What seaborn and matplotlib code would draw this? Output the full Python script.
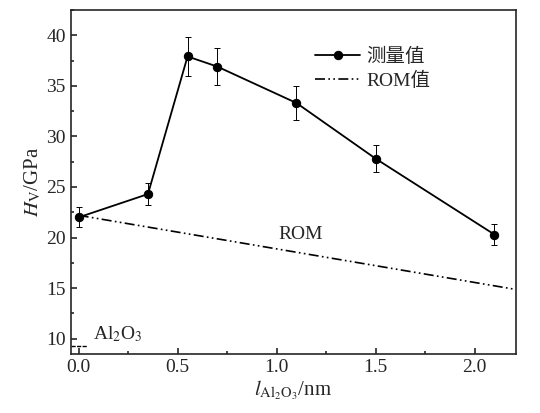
import numpy as np
import pandas as pd
import matplotlib
matplotlib.use("Agg")
import matplotlib.pyplot as plt
import seaborn as sns
from matplotlib.ticker import MultipleLocator

# measured hardness vs Al2O3 layer thickness
thickness = [0.0, 0.35, 0.55, 0.70, 1.10, 1.50, 2.10]
hardness = [22.0, 24.3, 37.9, 36.9, 33.3, 27.8, 20.3]
hardness_err = [1.0, 1.1, 1.9, 1.8, 1.7, 1.3, 1.0]

# rule-of-mixtures line
rom_x = [0.0, 2.2]
rom_y = [22.2, 14.9]

# Al2O3 reference marker
al2o3_x = [-0.04, 0.04]
al2o3_y = [9.25, 9.25]

df = pd.DataFrame({"l": thickness, "H": hardness})
rom_df = pd.DataFrame({"l": rom_x, "H": rom_y})

sns.set_style("ticks")
plt.rcParams['font.family'] = ['Liberation Serif', 'Noto Sans CJK SC', 'DejaVu Sans']
plt.rcParams['mathtext.fontset'] = 'stix'

fig, ax = plt.subplots(figsize=(5.4, 4.13), dpi=100)

ax.errorbar(thickness, hardness, yerr=hardness_err, fmt='none', ecolor='black',
            elinewidth=0.7, capsize=2, capthick=0.7, zorder=2)
sns.lineplot(data=df, x="l", y="H", ax=ax, color='black', marker='o', markersize=6,
             markeredgecolor='black', linewidth=1.3, label='测量值', zorder=3)
sns.lineplot(data=rom_df, x="l", y="H", ax=ax, color='black', linewidth=1.2,
             linestyle=(0, (6, 2, 1, 2, 1, 2)), label='ROM值', zorder=2)
ax.plot(al2o3_x, al2o3_y, color='black', linewidth=1.0, linestyle=(0, (3, 1)))

ax.text(1.12, 19.5, 'ROM', fontsize=14, ha='center', va='bottom')
ax.text(0.07, 9.5, r'Al$_2$O$_3$', fontsize=14, ha='left', va='bottom')

ax.set_xlim(-0.04, 2.21)
ax.set_ylim(8.5, 42.5)
ax.xaxis.set_major_locator(MultipleLocator(0.5))
ax.xaxis.set_minor_locator(MultipleLocator(0.25))
ax.yaxis.set_major_locator(MultipleLocator(5))
ax.yaxis.set_minor_locator(MultipleLocator(2.5))
ax.xaxis.set_major_formatter(matplotlib.ticker.FormatStrFormatter('%.1f'))
ax.tick_params(direction='in', which='both', labelsize=14, width=1.2)
ax.tick_params(which='major', length=4)
ax.tick_params(which='minor', length=2.5)
for s in ax.spines.values():
    s.set_linewidth(1.2)
    s.set_visible(True)

ax.set_xlabel(r'$l_{\mathrm{Al_2O_3}}$/nm', fontsize=15, labelpad=2)
ax.set_ylabel(r'$H_{\mathrm{V}}$/GPa', fontsize=15, labelpad=2)

leg = ax.legend(loc='upper left', bbox_to_anchor=(0.51, 0.94), frameon=False,
                fontsize=14, handlelength=2.3, labelspacing=0.3, handletextpad=0.3)

fig.subplots_adjust(left=0.131, right=0.956, top=0.976, bottom=0.143)
fig.savefig("out.png", dpi=100)
